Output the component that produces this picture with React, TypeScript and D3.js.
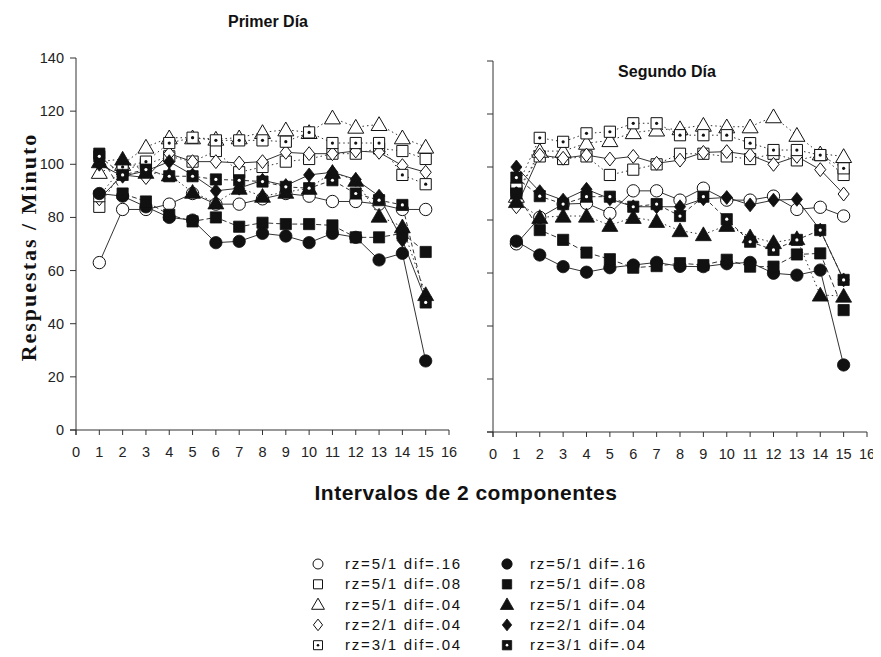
import React from "react";
import * as d3 from "d3";

// Interval numbers (1..15)
const intervals = [1, 2, 3, 4, 5, 6, 7, 8, 9, 10, 11, 12, 13, 14, 15];
const xTicks = [0, 1, 2, 3, 4, 5, 6, 7, 8, 9, 10, 11, 12, 13, 14, 15, 16];
const yTicks = [0, 20, 40, 60, 80, 100, 120, 140];

// Primer Día — responses per minute
const d1OpenCircle = [63, 83, 83, 85, 89, 85, 85, 87, 89, 88, 86, 86, 85, 83, 83];
const d1OpenSquare = [84, 98, 100, 103, 101, 105, 97, 99, 101, 102, 104, 104, 106, 105, 102];
const d1OpenTriangle = [97, 100, 106.5, 110, 110, 109.5, 110, 112, 113, 112, 117.5, 114, 115, 110, 106.5];
const d1OpenDiamond = [87, 96, 95, 104, 101, 101, 100.5, 101, 104.5, 104, 104, 105, 104.5, 99.5, 97];
const d1OpenDotSquare = [88, 99, 101, 108, 110, 109, 109, 109, 108.5, 112, 108, 108, 108, 96, 92.5];
const d1FilledCircle = [89, 88, 84, 80, 79, 70.5, 71, 74, 73, 70.5, 74, 72.5, 64, 66.5, 26];
const d1FilledSquare = [104, 89, 86, 81, 78.5, 80, 76.5, 78, 77.5, 77.5, 77, 72.5, 72.5, 74, 67];
const d1FilledTriangle = [101, 102, 97, 96, 89.5, 85.5, 91, 88, 89.5, 91, 97, 94, 80.5, 76.5, 51];
const d1FilledDiamond = [100, 95.5, 97.5, 101, 96, 90, 91, 94, 92, 96, 97, 94.3, 88, 71.5, 49];
const d1FilledDotSquare = [103, 96, 98, 95.5, 95.5, 94.3, 94, 93.5, 91.5, 91, 94, 89, 86.5, 84.7, 48];

// Segundo Día — responses per minute
const d2OpenCircle = [71, 81, 86, 86.3, 82.5, 91, 91, 87.5, 92, 87.5, 87.5, 89, 84, 84.8, 81.5];
const d2OpenSquare = [91, 104, 103, 104, 97, 99, 101, 105, 105, 104, 103, 105, 102.5, 104.5, 97];
const d2OpenTriangle = [89, 106, 106, 109, 110, 113, 114, 114.5, 115.8, 115.2, 115.2, 119, 112, 105, 104];
const d2OpenDiamond = [85, 104.5, 103.3, 104.5, 103, 104, 101.4, 102.6, 105.5, 105.8, 104.5, 101, 104, 99, 89.8];
const d2OpenDotSquare = [92, 111, 109.5, 112.7, 113.3, 116.5, 116.5, 112, 112, 112, 109, 106.4, 106.4, 104.5, 99.5];
const d2FilledCircle = [72, 66.8, 62.4, 60.3, 62, 63, 64, 62.5, 62.4, 63.5, 64, 59.9, 59.2, 61.1, 25.3];
const d2FilledSquare = [90, 76.2, 72.5, 67.7, 65.2, 62, 62.6, 63.7, 63, 65, 62.4, 62.4, 67, 67.4, 46];
const d2FilledTriangle = [87, 81, 81.5, 81.5, 78, 81, 79.5, 76, 74.5, 78, 73.7, 71.5, 73, 51.7, 51.3];
const d2FilledDiamond = [100, 90.7, 87.5, 91.6, 88, 85, 85, 85, 88, 88.5, 85.7, 87.5, 87.8, 76.2, 57.4];
const d2FilledDotSquare = [96, 89, 86, 88.8, 88.8, 85, 86, 81.5, 88.8, 80.3, 71.8, 68.7, 72.5, 76.2, 57.4];

type Shape = "circle" | "square" | "triangle" | "diamond" | "dotsquare";

interface SeriesStyle {
  label: string;
  shape: Shape;
  filled: boolean;
  dash: string | null;
}

const styles: SeriesStyle[] = [
  { label: "rz=5/1 dif=.16", shape: "circle", filled: false, dash: null },
  { label: "rz=5/1 dif=.08", shape: "square", filled: false, dash: "1.5,3" },
  { label: "rz=5/1 dif=.04", shape: "triangle", filled: false, dash: "1.5,3" },
  { label: "rz=2/1 dif=.04", shape: "diamond", filled: false, dash: null },
  { label: "rz=3/1 dif=.04", shape: "dotsquare", filled: false, dash: "1.5,3" },
  { label: "rz=5/1 dif=.16", shape: "circle", filled: true, dash: null },
  { label: "rz=5/1 dif=.08", shape: "square", filled: true, dash: "5,3" },
  { label: "rz=5/1 dif=.04", shape: "triangle", filled: true, dash: "1.5,3" },
  { label: "rz=2/1 dif=.04", shape: "diamond", filled: true, dash: null },
  { label: "rz=3/1 dif=.04", shape: "dotsquare", filled: true, dash: "4,3" },
];

const day1 = [
  d1OpenCircle, d1OpenSquare, d1OpenTriangle, d1OpenDiamond, d1OpenDotSquare,
  d1FilledCircle, d1FilledSquare, d1FilledTriangle, d1FilledDiamond, d1FilledDotSquare,
];
const day2 = [
  d2OpenCircle, d2OpenSquare, d2OpenTriangle, d2OpenDiamond, d2OpenDotSquare,
  d2FilledCircle, d2FilledSquare, d2FilledTriangle, d2FilledDiamond, d2FilledDotSquare,
];

const FONT = "'Liberation Sans', Arial, sans-serif";

// A rhombus that is only slightly taller than wide
const rhombus: d3.SymbolType = {
  draw(context, size) {
    const h = Math.sqrt(size / 0.85) / 1.0;
    const w = h * 0.85;
    context.moveTo(0, -h / 2 - 1);
    context.lineTo(w / 2 + 0.5, 0);
    context.lineTo(0, h / 2 + 1);
    context.lineTo(-w / 2 - 0.5, 0);
    context.closePath();
  },
};

function symbolPath(shape: Shape, scale: number): string {
  const gen = d3.symbol();
  switch (shape) {
    case "circle":
      return gen.type(d3.symbolCircle).size(120 * scale)() as string;
    case "square":
    case "dotsquare":
      return gen.type(d3.symbolSquare).size(125 * scale)() as string;
    case "triangle":
      return gen.type(d3.symbolTriangle).size(110 * scale)() as string;
    case "diamond":
      return gen.type(rhombus).size(120 * scale)() as string;
  }
}

function Marker({ st, x, y, scale = 1 }: { st: SeriesStyle; x: number; y: number; scale?: number }) {
  const d = symbolPath(st.shape, scale);
  const dy = st.shape === "triangle" ? 1.5 * scale : 0;
  return (
    <g transform={`translate(${x},${y + dy})`}>
      <path d={d} fill={st.filled ? "#111" : "#fff"} stroke="#111" strokeWidth={st.filled ? 0.8 : 1} />
      {st.shape === "dotsquare" && (
        <circle cx={0} cy={-dy} r={1.6 * Math.sqrt(scale)} fill={st.filled ? "#fff" : "#111"} />
      )}
    </g>
  );
}

function Panel({
  data, x0, x1, y0, y1, showYLabels,
}: {
  data: number[][]; x0: number; x1: number; y0: number; y1: number; showYLabels: boolean;
}) {
  const x = d3.scaleLinear().domain([0, 16]).range([x0, x1]);
  const y = d3.scaleLinear().domain([0, 140]).range([y0, y1]);
  const line = d3
    .line<number>()
    .x((_, i) => x(intervals[i]))
    .y((v) => y(v));
  const order = [0, 1, 2, 3, 4, 5, 6, 7, 8, 9];
  return (
    <g>
      {/* axes */}
      <line x1={x0} x2={x0} y1={y(140)} y2={y(0) + 5} stroke="#333" strokeWidth={1} />
      <line x1={x0 - 6} x2={x(16)} y1={y(0)} y2={y(0)} stroke="#333" strokeWidth={1} />
      {yTicks.map((t) => (
        <g key={`y${t}`}>
          <line x1={x0 - 6} x2={x0} y1={y(t)} y2={y(t)} stroke="#333" strokeWidth={1} />
          {showYLabels && (
            <text x={x0 - 12} y={y(t) + 5} textAnchor="end" fontFamily={FONT} fontSize={14.5} fill="#222">
              {t}
            </text>
          )}
        </g>
      ))}
      {xTicks.map((t) => (
        <g key={`x${t}`}>
          <line x1={x(t)} x2={x(t)} y1={y(0)} y2={y(0) + 5} stroke="#333" strokeWidth={1} />
          <text x={x(t)} y={y(0) + 27} textAnchor="middle" fontFamily={FONT} fontSize={14.5} fill="#222">
            {t}
          </text>
        </g>
      ))}
      {/* connecting lines */}
      {order.map((k) => (
        <path
          key={`l${k}`}
          d={line(data[k]) as string}
          fill="none"
          stroke="#333"
          strokeWidth={1}
          strokeDasharray={styles[k].dash ?? undefined}
        />
      ))}
      {/* markers */}
      {order.map((k) => (
        <g key={`m${k}`}>
          {data[k].map((v, i) => (
            <Marker key={i} st={styles[k]} x={x(intervals[i])} y={y(v)} />
          ))}
        </g>
      ))}
    </g>
  );
}

export default function App() {
  const legendRows = [0, 1, 2, 3, 4];
  return (
    <svg width={873} height={649} style={{ display: "block", background: "#fff" }}>
      <rect width={873} height={649} fill="#fff" />
      <g transform="translate(-8,-8)">
        <Panel data={day1} x0={76} x1={449} y0={430} y1={58} showYLabels={true} />
        <Panel data={day2} x0={493} x1={867} y0={432} y1={61} showYLabels={false} />

        <text x={268} y={27} textAnchor="middle" fontFamily={FONT} fontWeight="bold" fontSize={16} fill="#111">
          Primer Día
        </text>
        <text x={667} y={77} textAnchor="middle" fontFamily={FONT} fontWeight="bold" fontSize={16} fill="#111">
          Segundo Día
        </text>
        <text
          x={466}
          y={500}
          textAnchor="middle"
          fontFamily={FONT}
          fontWeight="bold"
          fontSize={21}
          letterSpacing={0.5}
          fill="#111"
        >
          Intervalos de 2 componentes
        </text>
        <text
          transform="translate(36,247) rotate(-90)"
          textAnchor="middle"
          fontFamily="'Liberation Serif', 'Times New Roman', serif"
          fontWeight="bold"
          fontSize={22}
          letterSpacing={2}
          fill="#111"
        >
          Respuestas / Minuto
        </text>

        {/* legend */}
        {legendRows.map((r) => {
          const cy = 564 + r * 20.3;
          const open = styles[r];
          const filled = styles[r + 5];
          return (
            <g key={`lg${r}`}>
              <Marker st={open} x={318} y={cy} scale={0.65} />
              <text x={345} y={cy + 5} fontFamily={FONT} fontSize={15} letterSpacing={1.8} fill="#111">
                {open.label}
              </text>
              <Marker st={filled} x={507} y={cy} scale={0.7} />
              <text x={530} y={cy + 5} fontFamily={FONT} fontSize={15} letterSpacing={1.8} fill="#111">
                {filled.label}
              </text>
            </g>
          );
        })}
      </g>
    </svg>
  );
}
